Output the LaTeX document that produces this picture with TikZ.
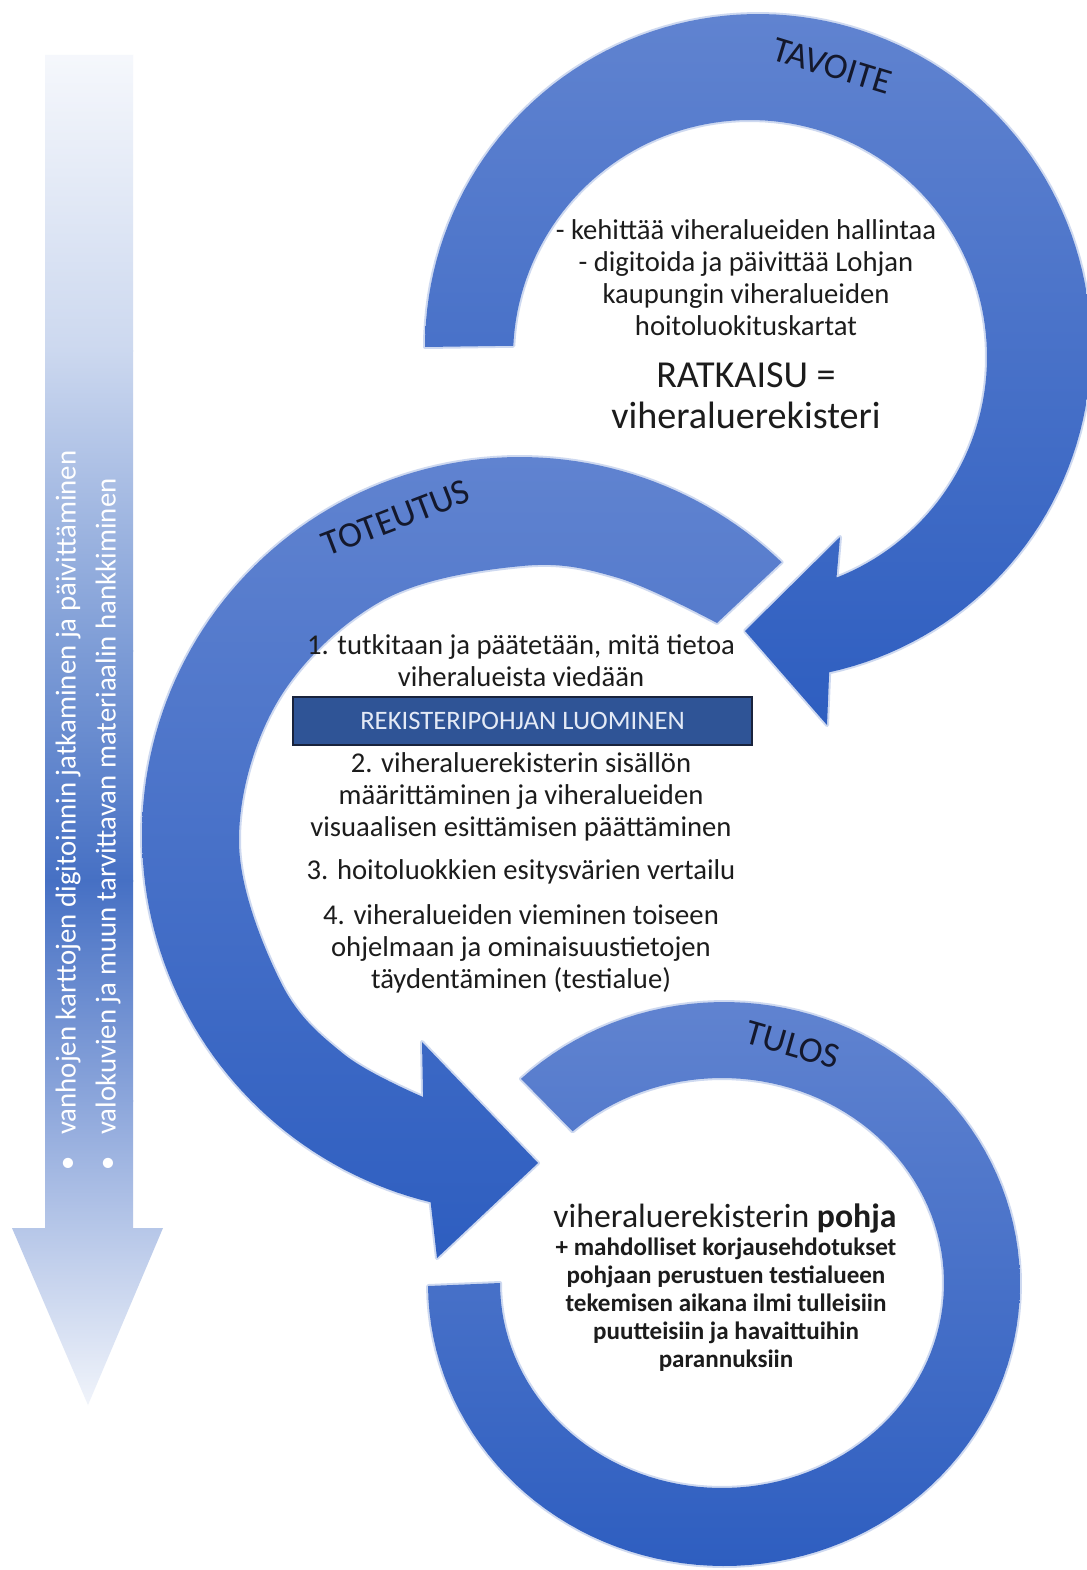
\documentclass[tikz,border=0pt]{standalone}
\usepackage{fontspec}
\setmainfont{Carlito}
\definecolor{bandlight}{RGB}{96,131,208}
\definecolor{banddark}{RGB}{46,94,192}
\definecolor{boxblue}{RGB}{47,84,150}
\definecolor{boxedge}{RGB}{25,35,60}
\definecolor{boxtext}{RGB}{228,234,246}
\definecolor{txt}{RGB}{28,28,28}
\definecolor{lbltxt}{RGB}{20,24,44}
\definecolor{la0}{RGB}{246,248,252}
\definecolor{la1}{RGB}{204,216,239}
\definecolor{la2}{RGB}{125,156,214}
\definecolor{la3}{RGB}{70,112,196}
\definecolor{la4}{RGB}{140,166,219}
\definecolor{la5}{RGB}{242,245,251}
\begin{document}
\begin{tikzpicture}[x=0.75pt,y=-0.75pt,
  band/.style={top color=bandlight, bottom color=banddark,
     preaction={draw=bandlight, draw opacity=0.3, line width=3pt, line join=round}},
  lbl/.style={font=\fontsize{27}{30}\selectfont, text=lbltxt, inner sep=0pt},
  body/.style={font=\fontsize{21.5}{24}\selectfont, text=txt, align=center, inner sep=0pt},
  big/.style={font=\fontsize{28.6}{30.75}\selectfont, text=txt, align=center, inner sep=0pt},
  boldpara/.style={font=\fontsize{18.8}{21}\selectfont\bfseries, text=txt, align=center, inner sep=0pt},
  sidetext/.style={font=\fontsize{21.6}{24}\selectfont, text=white, inner sep=0pt, rotate=90, anchor=west},
  boxstyle/.style={draw=boxedge, line width=0.8pt, fill=boxblue, text=boxtext,
     font=\fontsize{20}{22}\selectfont, minimum width=344.25pt, minimum height=36pt, inner sep=0pt}
]
\useasboundingbox (0,0) rectangle (1087,1570);
\fill[white] (0,0) rectangle (1087,1570);

% left gradient arrow
\begin{scope}
\clip (45,55) -- (133,55) -- (133,1228) -- (163,1228) -- (88,1405) -- (12,1228) -- (45,1228) -- cycle;
\shade[top color=la0, bottom color=la1] (0,50) rectangle (170,351);
\shade[top color=la1, bottom color=la2] (0,350) rectangle (170,651);
\shade[top color=la2, bottom color=la3] (0,650) rectangle (170,881);
\shade[top color=la3, bottom color=la4] (0,880) rectangle (170,1101);
\shade[top color=la4, bottom color=la5] (0,1100) rectangle (170,1410);
\end{scope}
\node[sidetext] (side1) at (68,1135) {vanhojen karttojen digitoinnin jatkaminen ja päivittäminen};
\node[sidetext] (side2) at (108,1135) {valokuvien ja muun tarvittavan materiaalin hankkiminen};
\node[font=\fontsize{21.6}{24}\selectfont, text=white, inner sep=0pt] (b1) at (68,1165) {\textbullet};
\node[font=\fontsize{21.6}{24}\selectfont, text=white, inner sep=0pt] (b2) at (108,1165) {\textbullet};

% TAVOITE band
\path[band] plot[domain=0:1,samples=120,variable=\t] ({758+333*cos(180+258*\t)},{347+333*sin(180+258*\t)})
  -- (827,725) -- (745,631) -- (840,537) -- (836.5,577.7)
  -- plot[domain=0:1,samples=120,variable=\t] ({750+237*cos(428.6-246.2*\t)},{357+237*sin(428.6-246.2*\t)})
  -- cycle;

% TOTEUTUS band
\path[band] plot[domain=0:1,samples=120,variable=\t] ({520+378*cos(313.8-210.4*\t)},{835+378*sin(313.8-210.4*\t)})
  -- (437,1258) -- (538,1163) -- (422,1042) -- (423.1,1097)
  -- plot[smooth, tension=0.6] coordinates {(423.1,1097) (343.9,1054.2) (280.4,981.5) (239,842) (277.8,701) (382.5,600.4) (522,566) (618.1,577.9) (717,623)}
  -- cycle;

% TULOS band
\path[band] plot[domain=0:1,samples=120,variable=\t] ({724+296*cos(226.7+313.3*\t)},{1284+282*sin(226.7+313.3*\t)})
  -- plot[domain=0:1,samples=120,variable=\t] ({722+222*cos(540-312.7*\t)},{1283+205*sin(540-312.7*\t)})
  -- cycle;

% labels
\node[lbl, rotate=-17] (tavoite) at (832,66) {TAVOITE};
\node[lbl, rotate=21] (toteutus) at (396,518) {TOTEUTUS};
\node[lbl, rotate=-16] (tulos) at (793,1045) {TULOS};

% TAVOITE text
\node[body] (goal) at (746,278) {- kehittää viheralueiden hallintaa\\- digitoida ja päivittää Lohjan\\kaupungin viheralueiden\\hoitoluokituskartat};
\node[big] (ratkaisu) at (746,396) {RATKAISU =\\viheraluerekisteri};

% TOTEUTUS text
\node[body] (step1) at (521,661) {1. tutkitaan ja päätetään, mitä tietoa\\viheralueista viedään};
\node[boxstyle] (rekbox) at (522.5,721) {REKISTERIPOHJAN LUOMINEN};
\node[body] (step2) at (521,797) {2. viheraluerekisterin sisällön\\määrittäminen ja viheralueiden\\visuaalisen esittämisen päättäminen};
\node[body] (step3) at (521,872) {3. hoitoluokkien esitysvärien vertailu};
\node[body] (step4) at (521,949) {4. viheralueiden vieminen toiseen\\ohjelmaan ja ominaisuustietojen\\täydentäminen (testialue)};

% TULOS text
\node[font=\fontsize{25.3}{28}\selectfont, text=txt, inner sep=0pt] (pohja) at (725,1218) {viheraluerekisterin \textbf{pohja}};
\node[boldpara] (korjaus) at (726,1305) {+ mahdolliset korjausehdotukset\\pohjaan perustuen testialueen\\tekemisen aikana ilmi tulleisiin\\puutteisiin ja havaittuihin\\parannuksiin};
\end{tikzpicture}
\end{document}
